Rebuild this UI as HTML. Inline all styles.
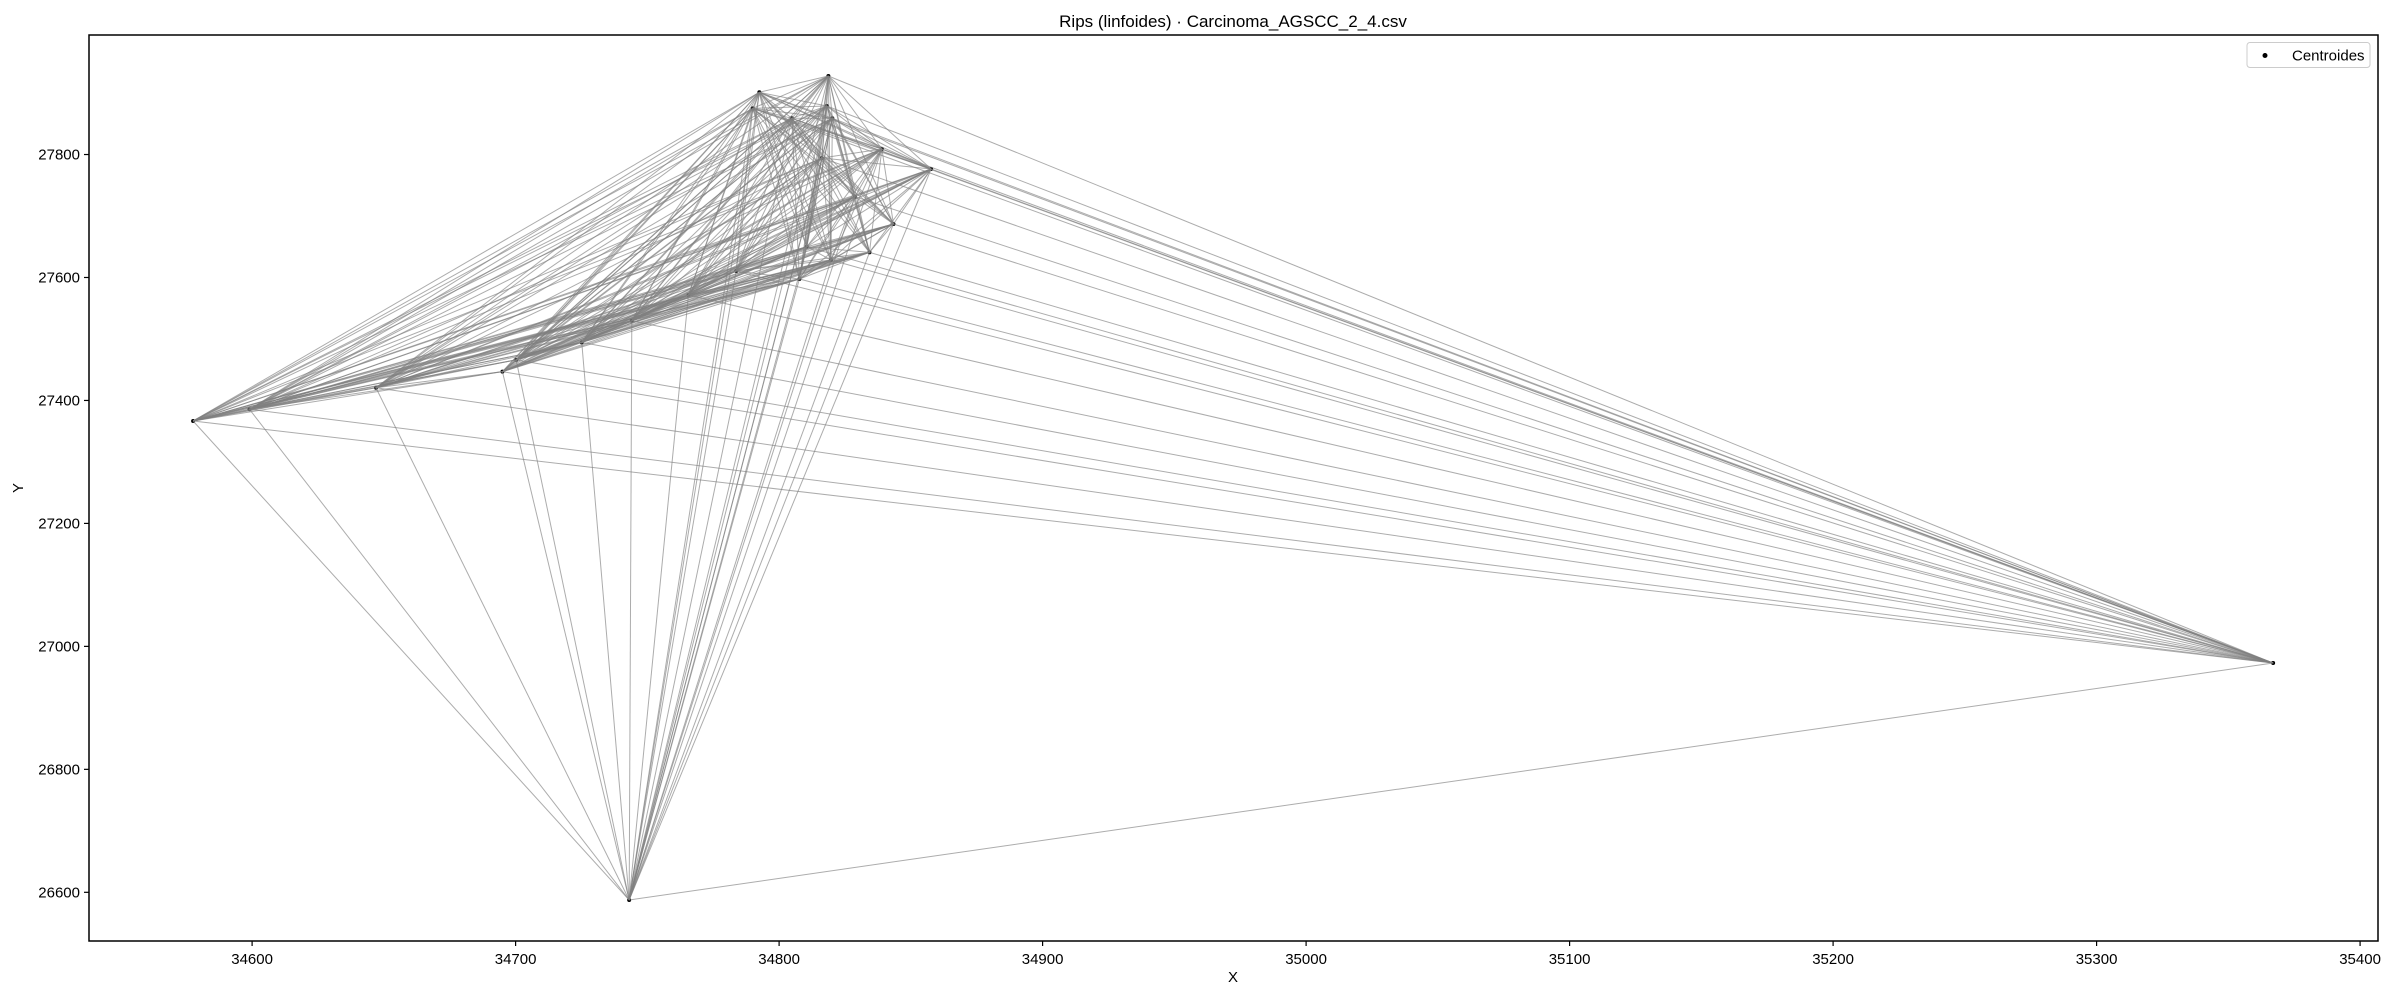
<!DOCTYPE html>
<html><head><meta charset="utf-8"><style>
html,body{margin:0;padding:0;background:#fff;}
svg{display:block;font-family:"Liberation Sans","DejaVu Sans",sans-serif;}
</style></head><body>
<svg id="chart" width="2400" height="1000" viewBox="0 0 2400 1000">
<rect x="0" y="0" width="2400" height="1000" fill="#fff"/>
<text x="1233" y="27" text-anchor="middle" font-size="17">Rips (linfoides) · Carcinoma_AGSCC_2_4.csv</text>
<g id="points"></g>
<g id="edges"></g>
<rect x="89" y="35" width="2289" height="906" fill="none" stroke="#000" stroke-width="1.5"/>
<g id="xticks"></g>
<g id="yticks"></g>
<text x="1233" y="982" text-anchor="middle" font-size="15">X</text>
<text x="23" y="488" text-anchor="middle" font-size="15" transform="rotate(-90 23 488)">Y</text>
<g>
<rect x="2247" y="42.5" width="123" height="25" rx="3" fill="#fff" stroke="#ccc" stroke-width="1"/>
<circle cx="2265" cy="55.5" r="2.5" fill="#000"/>
<text x="2292" y="60.5" font-size="15">Centroides</text>
</g>
</svg>
<script>
const xs = [34577.6,34599,34647,34695,34700.2,34725.1,34744.1,34765.6,34783.7,34807.7,34819.7,34810.5,34834.3,34843.4,34828.8,34857.7,34839,34820.2,34804.8,34818.1,34790,34792.5,34818.7,34816.2,34743.1,35367];
const ys = [27366.6,27385.6,27420.7,27446.8,27466,27494.5,27529.7,27571.5,27610.5,27597.5,27628.4,27650,27640.9,27687,27731.4,27776.4,27809,27858.9,27858.9,27878.9,27875.1,27901.2,27927.7,27794.3,26587.5,26972.9];
const xTickVals = [34600,34700,34800,34900,35000,35100,35200,35300,35400];
const yTickVals = [26600,26800,27000,27200,27400,27600,27800];

const X0=34538.1, X1=35406.8, Y0=26520.8, Y1=27994.4;
const L=89, R=2378, T=35, B=941;
function sx(v){return L+(v-X0)/(X1-X0)*(R-L);}
function sy(v){return B-(v-Y0)/(Y1-Y0)*(B-T);}
const NS="http://www.w3.org/2000/svg";
const eg=document.getElementById('edges');
for(let i=0;i<xs.length;i++){for(let j=i+1;j<xs.length;j++){
  const l=document.createElementNS(NS,'line');
  l.setAttribute('x1',sx(xs[i]));l.setAttribute('y1',sy(ys[i]));
  l.setAttribute('x2',sx(xs[j]));l.setAttribute('y2',sy(ys[j]));
  l.setAttribute('stroke','#808080');l.setAttribute('stroke-opacity','0.65');l.setAttribute('stroke-width','1');
  
  
  eg.appendChild(l);
}}
const pg=document.getElementById('points');
for(let i=0;i<xs.length;i++){
  const c=document.createElementNS(NS,'circle');
  c.setAttribute('cx',sx(xs[i]));c.setAttribute('cy',sy(ys[i]));c.setAttribute('r','2');c.setAttribute('fill','#000');
  
  
  pg.appendChild(c);
}
const xg=document.getElementById('xticks');
xTickVals.forEach(v=>{
  const x=sx(v);
  const t=document.createElementNS(NS,'line');
  t.setAttribute('x1',x);t.setAttribute('x2',x);t.setAttribute('y1',B);t.setAttribute('y2',B+5);t.setAttribute('stroke','#000');t.setAttribute('stroke-width','1.2');
  
  
  xg.appendChild(t);
  const s=document.createElementNS(NS,'text');
  s.setAttribute('x',x);s.setAttribute('y',B+23);s.setAttribute('text-anchor','middle');s.setAttribute('font-size','15');
  s.textContent=v;
  
  
  xg.appendChild(s);
});
const yg=document.getElementById('yticks');
yTickVals.forEach(v=>{
  const y=sy(v);
  const t=document.createElementNS(NS,'line');
  t.setAttribute('x1',L-5);t.setAttribute('x2',L);t.setAttribute('y1',y);t.setAttribute('y2',y);t.setAttribute('stroke','#000');t.setAttribute('stroke-width','1.2');
  
  
  yg.appendChild(t);
  const s=document.createElementNS(NS,'text');
  s.setAttribute('x',L-9);s.setAttribute('y',y+5);s.setAttribute('text-anchor','end');s.setAttribute('font-size','15');
  s.textContent=v;
  
  
  yg.appendChild(s);
});
</script>
</body></html>
